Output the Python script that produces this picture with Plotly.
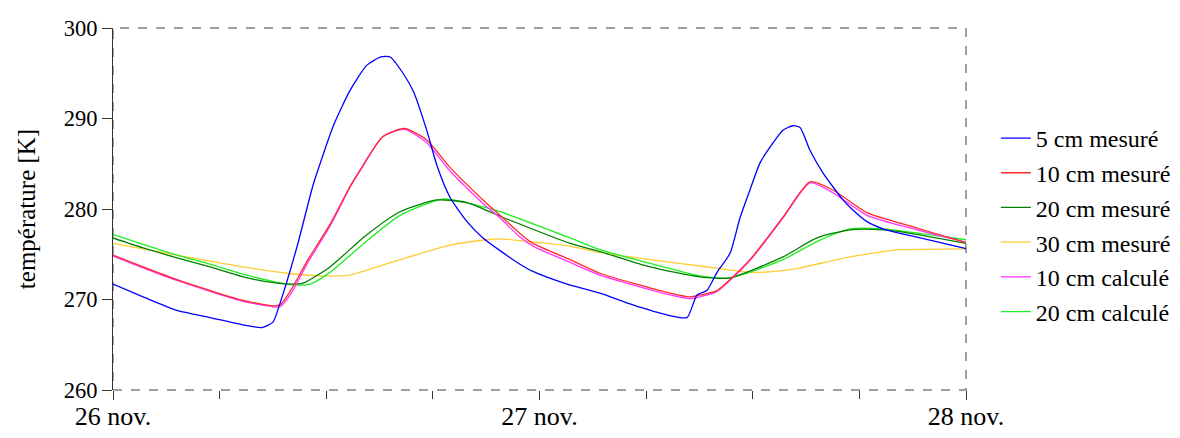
import plotly.graph_objects as go

# x in hours from 26 nov. 00:00
blue_x = [0, 1.69, 3.60, 5.46, 7.32, 8.38, 9.0, 9.40, 10.35, 11.25, 11.48, 12.38, 13.34, 14.29, 15.08, 15.6,
          16.32, 16.9, 17.67, 18.23, 18.96, 19.92, 20.82, 21.78, 22.90, 23.63, 25.55, 27.40, 29.26, 31.17, 32.30,
          32.86, 33.42, 33.99, 34.72, 35.28, 35.84, 36.41, 37.14, 37.70, 38.26, 38.66, 39.22, 39.95, 41.08, 41.47,
          42.43, 43.33, 44.29, 45.24, 47.83, 48]
blue_y = [271.7, 270.3, 268.8, 268.0, 267.2, 266.9, 267.5, 269.6, 275.8, 282.6, 284.0, 289.1, 293.1, 295.9, 296.8, 296.8,
          295.0, 293.0, 288.6, 284.8, 281.3, 278.6, 276.8, 275.4, 273.9, 273.1, 271.7, 270.7, 269.4, 268.3, 268.0,
          270.5, 271.0, 273.0, 275.1, 279.0, 282.1, 285.1, 287.3, 288.7, 289.2, 289.0, 286.5, 284.0, 281.0, 280.2,
          278.6, 277.8, 277.3, 276.9, 275.7, 275.6]

red_x = [0, 1.69, 3.60, 5.46, 7.32, 9.0, 9.40, 10.0, 10.97, 12.21, 13.34, 13.90, 15.19, 16.4, 17.67, 18.96, 20.82,
         21.78, 22.90, 23.63, 25.72, 27.40, 31.17, 32.47, 33.03, 33.99, 35.84, 37.70, 39.22, 40.51, 42.43, 45.24,
         47.83, 48]
red_y = [274.9, 273.6, 272.2, 271.0, 269.9, 269.3, 269.4, 271.0, 274.4, 278.3, 282.5, 284.3, 288.0, 288.9, 287.6, 284.6, 281.0,
         279.3, 277.3, 276.2, 274.4, 272.9, 270.8, 270.3, 270.5, 271.0, 274.4, 279.1, 283.0, 282.1, 279.6, 277.9,
         276.4, 276.3]

mag_x = red_x
mag_y = [274.8, 273.5, 272.1, 270.9, 269.8, 269.2, 269.2, 270.6, 274.1, 278.1, 282.4, 284.2, 288.0, 288.8, 287.3, 284.2, 280.6,
         279.0, 276.9, 275.9, 274.1, 272.7, 270.6, 270.1, 270.3, 270.9, 274.3, 279.0, 282.9, 281.8, 279.3, 277.7,
         276.4, 276.3]

dg_x = [0, 1.69, 3.60, 5.46, 7.32, 9.23, 9.96, 10.69, 12.21, 14.18, 16.15, 18.23, 19.92, 21.78, 25.72, 27.40, 30.22,
        33.03, 34.72, 37.70, 39.61, 41.47, 43.33, 44.29, 48]
dg_y = [276.8, 275.7, 274.6, 273.6, 272.5, 271.8, 271.7, 271.8, 273.6, 277.0, 279.7, 281.0, 280.7, 279.2, 276.2, 275.3, 273.6,
        272.5, 272.4, 274.7, 276.8, 277.7, 277.7, 277.5, 276.2]

lg_x = [0, 1.69, 3.60, 5.46, 7.32, 9.23, 10.35, 11.09, 12.21, 14.18, 16.15, 18.57, 20.48, 21.78, 25.72, 27.40, 30.22,
        33.03, 34.72, 37.70, 39.61, 41.47, 43.33, 48]
lg_y = [277.2, 276.1, 274.9, 273.9, 272.8, 271.9, 271.6, 271.7, 273.0, 276.3, 279.3, 281.1, 280.4, 279.7, 276.8, 275.5, 274.0,
        272.6, 272.4, 274.4, 276.4, 277.8, 277.8, 276.6]

yel_x = [0, 3.60, 7.32, 9.79, 11.65, 12.60, 13.34, 16.15, 18.96, 21.05, 21.78, 22.90, 25.72, 27.40, 30.22, 33.03,
         35.84, 37.70, 38.66, 41.47, 43.33, 44.29, 48]
yel_y = [276.2, 274.9, 273.6, 272.9, 272.6, 272.6, 272.7, 274.4, 276.0, 276.6, 276.7, 276.5, 275.9, 275.2, 274.4, 273.7,
         273.0, 273.2, 273.5, 274.7, 275.3, 275.5, 275.6]

names = ["5 cm mesuré", "10 cm mesuré", "20 cm mesuré", "30 cm mesuré", "10 cm calculé", "20 cm calculé"]
colors = ["#0000FF", "#FF2A2A", "#008000", "#FFCC33", "#FF33FF", "#22EE22"]

tick_vals = [0, 24, 48]
tick_text = ["26 nov.", "27 nov.", "28 nov."]

series = [(blue_x, blue_y), (red_x, red_y), (dg_x, dg_y), (yel_x, yel_y), (mag_x, mag_y), (lg_x, lg_y)]
draw_order = [3, 5, 2, 4, 1, 0]

fig = go.Figure()
traces = {}
for i, (xs, ys) in enumerate(series):
    traces[i] = go.Scatter(x=xs, y=ys, mode="lines", name=names[i], legendgroup=f"g{i}", legendrank=i + 1,
                           line=dict(color=colors[i], width=1.3, shape="spline", smoothing=0.6))
for i in draw_order:
    fig.add_trace(traces[i])

font_family = "Liberation Serif"
fig.update_layout(
    width=1180, height=438,
    margin=dict(l=105, r=222, t=20, b=56, autoexpand=False),
    paper_bgcolor="white", plot_bgcolor="white",
    font=dict(family=font_family, color="black", size=25),
    showlegend=True,
    legend=dict(x=1.035, y=0.757, xanchor="left", yanchor="top", font=dict(size=24, family=font_family),
                tracegroupgap=0.5, itemwidth=30, bgcolor="rgba(0,0,0,0)"),
    xaxis=dict(range=[0, 48], tickvals=tick_vals, ticktext=tick_text, ticks="outside", ticklen=9,
               tickcolor="#333", showline=False, showgrid=False, zeroline=False, automargin=False,
               tickfont=dict(size=26, family=font_family), ticklabelstandoff=-6,
               minor=dict(dtick=6, tick0=0, ticks="outside", ticklen=8, tickcolor="#333")),
    yaxis=dict(range=[260, 300], dtick=10, ticks="outside", ticklen=10, tickcolor="#333",
               showline=True, linecolor="#333", linewidth=1.2, showgrid=False, zeroline=False, automargin=False,
               tickfont=dict(size=22.5, family=font_family),
               title=dict(text="température [K]", font=dict(size=25, family=font_family), standoff=20)),
)
fig.add_shape(type="rect", xref="paper", yref="paper", x0=0, x1=1, y0=0, y1=1,
              line=dict(color="#808080", width=1.5, dash="dash"), layer="below")
fig.write_html("out.html")
